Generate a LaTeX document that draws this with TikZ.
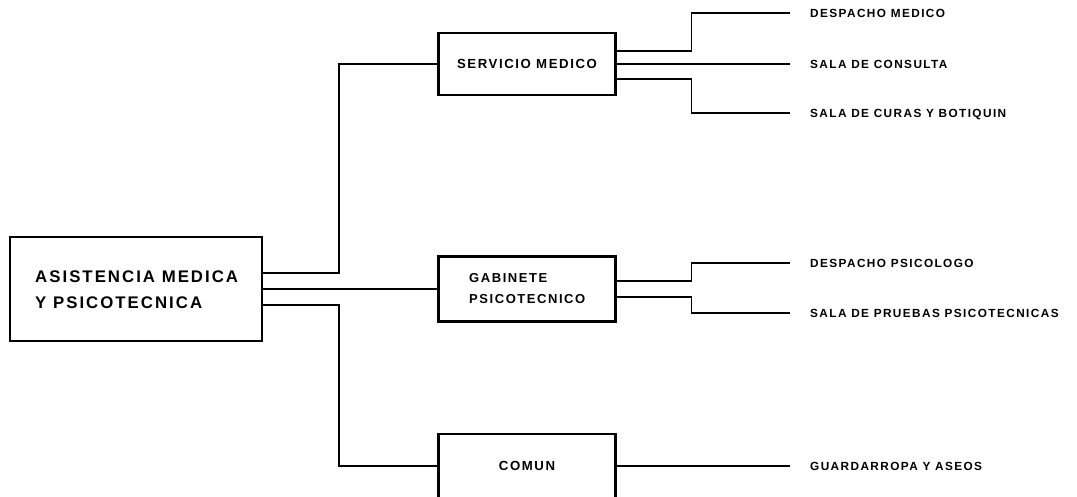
\documentclass[tikz,border=0pt]{standalone}
\usepackage{fontspec}
\setmainfont{Liberation Sans}[LetterSpace=12]
\usetikzlibrary{calc}
\begin{document}
\begin{tikzpicture}[x=1pt,y=-1pt,
  box/.style={draw, line width=2.1pt, inner sep=0pt, minimum width=177pt},
  conn/.style={line width=1.2pt},
  boxtext/.style={font=\bfseries\fontsize{13.2}{16}\selectfont, inner sep=0pt},
  lbl/.style={anchor=west, inner sep=0pt, text height=8pt, text depth=0pt, font=\bfseries\fontsize{11.8}{13}\selectfont}]
\useasboundingbox (0,0) rectangle (1077,496);
\clip (0,0) rectangle (1077,496);
% main box
\node[box, minimum width=252pt, minimum height=104pt] (main) at (136,289) {};
\node[anchor=west, align=left, inner sep=0pt, font=\bfseries\fontsize{16.8}{26}\selectfont] (mt) at (35,290) {ASISTENCIA MEDICA\\Y PSICOTECNICA};
% second level boxes
\node[box, minimum height=62pt, boxtext] (serv) at (527,64) {SERVICIO MEDICO};
\node[box, minimum height=65pt] (gab) at (527,289) {};
\node[anchor=west, align=left, boxtext, font=\bfseries\fontsize{13}{21}\selectfont] (gt) at (469,289) {GABINETE\\PSICOTECNICO};
\node[box, minimum height=64pt, boxtext] (com) at (527,466) {COMUN};
% labels
\node[lbl] (l1) at (810,13) {DESPACHO MEDICO};
\node[lbl] (l2) at (810,64) {SALA DE CONSULTA};
\node[lbl] (l3) at (810,113) {SALA DE CURAS Y BOTIQUIN};
\node[lbl] (l4) at (810,263) {DESPACHO PSICOLOGO};
\node[lbl] (l5) at (810,313) {SALA DE PRUEBAS PSICOTECNICAS};
\node[lbl] (l6) at (810,466) {GUARDARROPA Y ASEOS};
% connectors from main box
\draw[conn] ($(main.east)+(0,-16)$) -- ++(76,0) |- (serv.west);
\draw[conn] (main.east) -- (gab.west);
\draw[conn] ($(main.east)+(0,16)$) -- ++(76,0) |- (com.west);
% servicio medico
\draw[conn] ($(serv.east)+(0,-13)$) -- ++(75,0) |- ([xshift=-20pt]l1.west);
\draw[conn] (serv.east) -- ([xshift=-20pt]l2.west);
\draw[conn] ($(serv.east)+(0,15)$) -- ++(75,0) |- ([xshift=-20pt]l3.west);
% gabinete
\draw[conn] ($(gab.east)+(0,-8)$) -- ++(75,0) |- ([xshift=-20pt]l4.west);
\draw[conn] ($(gab.east)+(0,8)$) -- ++(75,0) |- ([xshift=-20pt]l5.west);
% comun
\draw[conn] (com.east) -- ([xshift=-20pt]l6.west);
\end{tikzpicture}
\end{document}
